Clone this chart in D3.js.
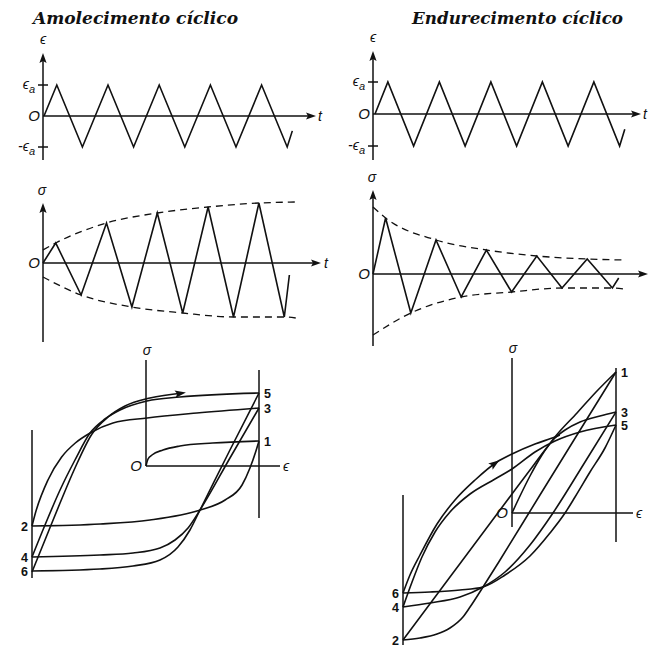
<!DOCTYPE html>
<html><head><meta charset="utf-8">
<script src="https://cdn.jsdelivr.net/npm/d3@7"></script>
<style>body{margin:0;background:#fff}svg{display:block}</style>
</head><body>
<svg id="fig" width="649" height="652"></svg>
<script>
// ---------- data ----------
// controlled strain history: reversal times (quarter cycles) and strain / strain amplitude
const strainTime = [0, 1, 3, 5, 7, 9, 11, 13, 15, 17, 19, 19.4];
const strainLevel = [0, 1, -1, 1, -1, 1, -1, 1, -1, 1, -1, -0.48];

// stress response, softening column (amplitude grows)
const stressTimeA = [0, 1, 3, 5, 7, 9, 11, 13, 15, 17, 19, 19.4];
const stressA = [0, 20, -32, 40, -44, 50, -50, 56, -54, 60, -54, -12];
const envUpperTimeA = [0, 1, 5, 9, 13, 17, 19.9];
const envUpperA = [13, 20, 40, 50, 56, 60, 61];
const envLowerTimeA = [0, 3, 7, 11, 15, 19, 19.9];
const envLowerA = [-14, -32, -44, -50, -54, -54, -55];

// stress response, hardening column (amplitude decays)
const stressTimeB = [0, 1, 3, 5, 7, 9, 11, 13, 15, 17, 19, 19.5];
const stressB = [0, 56, -39, 34, -23, 24, -18, 18, -14, 15, -14, -4];
const envUpperTimeB = [0, 1, 5, 9, 13, 17, 19.9];
const envUpperB = [67, 56, 34, 24, 18, 15, 14];
const envLowerTimeB = [0, 3, 7, 11, 15, 19, 19.9];
const envLowerB = [-61, -39, -23, -18, -14, -14, -15];

// hysteresis branches [strain/amplitude, stress] for the softening column
const loopA = {
  "O-1": [[0,0],[0.018,7],[0.053,11],[0.15,16],[0.30,20],[0.59,23],[1,25]],
  "1-2": [[1,25],[0.97,14],[0.92,-2],[0.85,-19],[0.70,-34],[0.48,-44],[0.035,-54],[-0.40,-58],[-1,-60]],
  "2-3": [[-1,-60],[-0.97,-47],[-0.86,-14],[-0.74,9],[-0.62,23],[-0.49,33],[-0.29,43],[0.01,48],[0.45,53],[1,58]],
  "3-4": [[1,58],[0.743,8],[0.478,-44],[0.372,-62],[0.257,-74],[0.124,-82],[-0.114,-87],[-0.404,-89],[-1,-91]],
  "4-5": [[-1,-91],[-0.886,-59],[-0.754,-24],[-0.623,6],[-0.491,33],[-0.36,47],[-0.228,56],[0.009,65],[0.30,69],[1,73]],
  "5-6": [[1,73],[0.743,16],[0.478,-44],[0.389,-64],[0.283,-81],[0.124,-94],[-0.114,-100],[-0.404,-103],[-1,-105]],
  "6-7": [[-1,-106],[-0.886,-74],[-0.754,-37],[-0.623,-2],[-0.474,32],[-0.333,49],[-0.184,60],[0.035,68],[0.327,73]]
};
const peakLabelsA = [["1",1,25],["3",1,58],["5",1,73],["2",-1,-60],["4",-1,-91],["6",-1,-105]];

// hysteresis branches for the hardening column
const loopB = {
  "O-1": [[0,0],[0.077,17],[0.173,37],[0.288,58],[0.413,76],[0.625,100],[0.808,121],[1,141]],
  "1-2": [[1,141],[0.75,99],[0.269,18],[-0.11,-47],[-0.266,-74],[-0.385,-94],[-0.45,-104],[-0.569,-115],[-0.688,-121],[-0.844,-125],[-1,-127]],
  "2-3": [[-1,-127],[-0.569,-64],[-0.11,3],[0.173,43],[0.317,63],[0.413,75],[0.51,83],[0.654,91],[0.846,97],[1,101]],
  "3-4": [[1,101],[0.702,51],[0.394,0],[0.173,-32],[-0.064,-59],[-0.266,-74],[-0.477,-84],[-0.752,-90],[-1,-94]],
  "4-5": [[-1,-94],[-0.917,-69],[-0.826,-44],[-0.706,-19],[-0.569,1],[-0.385,19],[-0.156,34],[0,44],[0.221,61],[0.413,72],[0.654,81],[1,88]],
  "5-6": [[1,88],[0.894,65],[0.75,41],[0.606,16],[0.51,0],[0.365,-20],[0.173,-43],[-0.064,-62],[-0.266,-74],[-0.477,-77],[-0.752,-79],[-1,-80]],
  "6-7": [[-1,-80],[-0.936,-62],[-0.844,-42],[-0.688,-11],[-0.523,13],[-0.339,33],[-0.138,51],[0,59],[0.221,69],[0.413,76],[0.46,78]]
};
const peakLabelsB = [["1",1,141],["3",1,101],["5",1,88],["2",-1,-127],["4",-1,-94],["6",-1,-80]];

const titles = ["Amolecimento cíclico", "Endurecimento cíclico"];

// ---------- drawing ----------
const ink = "#111";
const svg = d3.select("#fig");
svg.append("rect").attr("width", 649).attr("height", 652).attr("fill", "#fff");

const labelFont = "'Liberation Sans', Arial, sans-serif";

function arrowHead(g, x, y, deg, len = 10, half = 3.6) {
  g.append("path")
    .attr("d", `M0,0L${-len},${-half}L${-len * 0.8},0L${-len},${half}Z`)
    .attr("transform", `translate(${x},${y}) rotate(${deg})`)
    .attr("fill", ink);
}
function line(g, x1, y1, x2, y2, w = 1.5) {
  g.append("line").attr("x1", x1).attr("y1", y1).attr("x2", x2).attr("y2", y2)
    .attr("stroke", ink).attr("stroke-width", w);
}
function italic(g, txt, x, y, anchor = "middle", size = 14) {
  return g.append("text").attr("x", x).attr("y", y).attr("text-anchor", anchor)
    .attr("font-family", labelFont).attr("font-style", "italic").attr("font-size", size)
    .attr("fill", ink).text(txt);
}
function epsA(g, prefix, x, y) {
  const t = g.append("text").attr("x", x).attr("y", y).attr("text-anchor", "end")
    .attr("font-family", labelFont).attr("font-style", "italic").attr("font-size", 14).attr("fill", ink);
  t.append("tspan").text(prefix + "\u03F5");
  t.append("tspan").attr("font-size", 11).attr("dy", 4).text("a");
}
function bold(g, txt, x, y, anchor = "start") {
  g.append("text").attr("x", x).attr("y", y).attr("text-anchor", anchor)
    .attr("font-family", labelFont).attr("font-weight", "bold").attr("font-size", 12.5)
    .attr("fill", ink).text(txt);
}

// titles
[[33, 24, 205], [412, 24, 211]].forEach(([x, y, w], i) => {
  svg.append("text").attr("x", x).attr("y", y)
    .attr("font-family", "'DejaVu Serif', serif").attr("font-weight", "bold").attr("font-style", "italic")
    .attr("font-size", 16).attr("textLength", w).attr("lengthAdjust", "spacingAndGlyphs")
    .attr("fill", ink).text(titles[i]);
});

// strain-time panels
function strainPanel(cfg) {
  const g = svg.append("g");
  const x = d3.scaleLinear().domain([0, 1]).range([cfg.t0, cfg.t0 + cfg.dt]);
  const y = d3.scaleLinear().domain([-1, 1]).range([cfg.yLow, cfg.yHigh]);
  const y0 = y(0);
  line(g, cfg.ax, cfg.axBottom, cfg.ax, cfg.axTop + 8);
  arrowHead(g, cfg.ax, cfg.axTop, -90);
  line(g, cfg.ax, y0, cfg.axRight - 8, y0);
  arrowHead(g, cfg.axRight, y0, 0);
  [-1, 1].forEach(v => line(g, cfg.ax - 5, y(v), cfg.ax + 5, y(v)));
  g.append("path")
    .datum(strainTime.map((t, i) => [t, strainLevel[i]]))
    .attr("d", d3.line().x(d => x(d[0])).y(d => y(d[1])))
    .attr("fill", "none").attr("stroke", ink).attr("stroke-width", 1.6).attr("stroke-linejoin", "miter");
  italic(g, "\u03F5", cfg.ax, cfg.axTop - 9);
  epsA(g, "", cfg.ax - 8, y(1) + 4);
  epsA(g, "-", cfg.ax - 8, y(-1) + 4);
  italic(g, "O", cfg.ax - 3, y0 + 5, "end", 15);
  if (cfg.tLabel) italic(g, "t", cfg.axRight + 2, y0 + 5, "start");
}
strainPanel({ t0: 44, dt: 12.8, yLow: 147, yHigh: 85, ax: 43, axTop: 53, axBottom: 160, axRight: 316, tLabel: true });
strainPanel({ t0: 375, dt: 12.875, yLow: 146, yHigh: 82, ax: 373, axTop: 51, axBottom: 160, axRight: 641, tLabel: true });

// stress-time panels
function stressPanel(cfg) {
  const g = svg.append("g");
  const x = d3.scaleLinear().domain([0, 1]).range([cfg.t0, cfg.t0 + cfg.dt]);
  const y = d3.scaleLinear().domain([0, 1]).range([cfg.y0, cfg.y0 - 1]);
  const y0 = y(0);
  line(g, cfg.ax, cfg.axBottom, cfg.ax, cfg.axTop + 8);
  arrowHead(g, cfg.ax, cfg.axTop, -90);
  line(g, cfg.ax, y0, cfg.axRight - 8, y0);
  arrowHead(g, cfg.axRight, y0, 0);
  const env = d3.line().x(d => x(d[0])).y(d => y(d[1])).curve(d3.curveMonotoneX);
  [[cfg.upT, cfg.up], [cfg.loT, cfg.lo]].forEach(([ts, vs]) => {
    g.append("path").datum(ts.map((t, i) => [t, vs[i]])).attr("d", env)
      .attr("fill", "none").attr("stroke", ink).attr("stroke-width", 1.3).attr("stroke-dasharray", "7,5");
  });
  g.append("path").datum(cfg.times.map((t, i) => [t, cfg.vals[i]]))
    .attr("d", d3.line().x(d => x(d[0])).y(d => y(d[1])))
    .attr("fill", "none").attr("stroke", ink).attr("stroke-width", 1.6).attr("stroke-linejoin", "miter");
  italic(g, "\u03C3", cfg.ax - 1, cfg.axTop - 8);
  italic(g, "O", cfg.ax - 3, y0 + 5, "end", 15);
  if (cfg.tLabel) italic(g, "t", cfg.axRight + 3, y0 + 5, "start");
}
stressPanel({ t0: 43, dt: 12.7, y0: 263, ax: 43, axTop: 203, axBottom: 342, axRight: 321,
  times: stressTimeA, vals: stressA, upT: envUpperTimeA, up: envUpperA, loT: envLowerTimeA, lo: envLowerA, tLabel: true });
stressPanel({ t0: 373, dt: 12.6, y0: 274, ax: 373, axTop: 190, axBottom: 346, axRight: 648,
  times: stressTimeB, vals: stressB, upT: envUpperTimeB, up: envUpperB, loT: envLowerTimeB, lo: envLowerB, tLabel: false });

// stress-strain hysteresis panels
function loopPanel(cfg) {
  const g = svg.append("g");
  const x = d3.scaleLinear().domain([-1, 0, 1]).range(cfg.xr);
  const y = d3.scaleLinear().domain([0, 1]).range([cfg.y0, cfg.y0 - 1]);
  line(g, x(0), cfg.sigTop, x(0), cfg.sigBottom);
  line(g, x(0), y(0), cfg.epsRight, y(0));
  line(g, x(1), cfg.rTop, x(1), cfg.rBottom);
  line(g, x(-1), cfg.lTop, x(-1), cfg.lBottom);
  // each branch is monotone in strain, so interpolate it monotonically along x
  const path = d3.line().x(d => x(d[0])).y(d => y(d[1])).curve(d3.curveMonotoneX);
  Object.values(cfg.branches).forEach(pts => {
    const sorted = pts.slice().sort((a, b) => a[0] - b[0]);
    g.append("path").datum(sorted).attr("d", path)
      .attr("fill", "none").attr("stroke", ink).attr("stroke-width", 1.6);
  });
  // loading-direction arrow on the last branch
  const pts = cfg.branches["6-7"];
  const k = cfg.arrowAt;
  const a = pts[k - 1], b = pts[k], c = pts[Math.min(k + 1, pts.length - 1)];
  const ang = Math.atan2(y(c[1]) - y(a[1]), x(c[0]) - x(a[0])) * 180 / Math.PI;
  arrowHead(g, x(b[0]) + 3 * Math.cos(ang * Math.PI / 180), y(b[1]) + 3 * Math.sin(ang * Math.PI / 180), ang, 11, 3.8);
  italic(g, "\u03C3", x(0) + 1, cfg.sigTop - 5);
  italic(g, "O", x(0) - 4, y(0) + 5, "end", 15);
  italic(g, "\u03F5", cfg.epsRight + 3, y(0) + 5, "start");
  cfg.labels.forEach(([txt, e, s]) => {
    if (e > 0) bold(g, txt, x(e) + 5, y(s) + 4.5, "start");
    else bold(g, txt, x(e) - 4, y(s) + 4.5, "end");
  });
}
loopPanel({ xr: [32, 146, 259], y0: 466, sigTop: 360, sigBottom: 466, epsRight: 280,
  rTop: 370, rBottom: 518, lTop: 430, lBottom: 578, branches: loopA, labels: peakLabelsA, arrowAt: 8 });
loopPanel({ xr: [403, 512, 616], y0: 513, sigTop: 358, sigBottom: 527, epsRight: 633,
  rTop: 368, rBottom: 542, lTop: 495, lBottom: 645, branches: loopB, labels: peakLabelsB, arrowAt: 6 });
</script>
</body></html>
